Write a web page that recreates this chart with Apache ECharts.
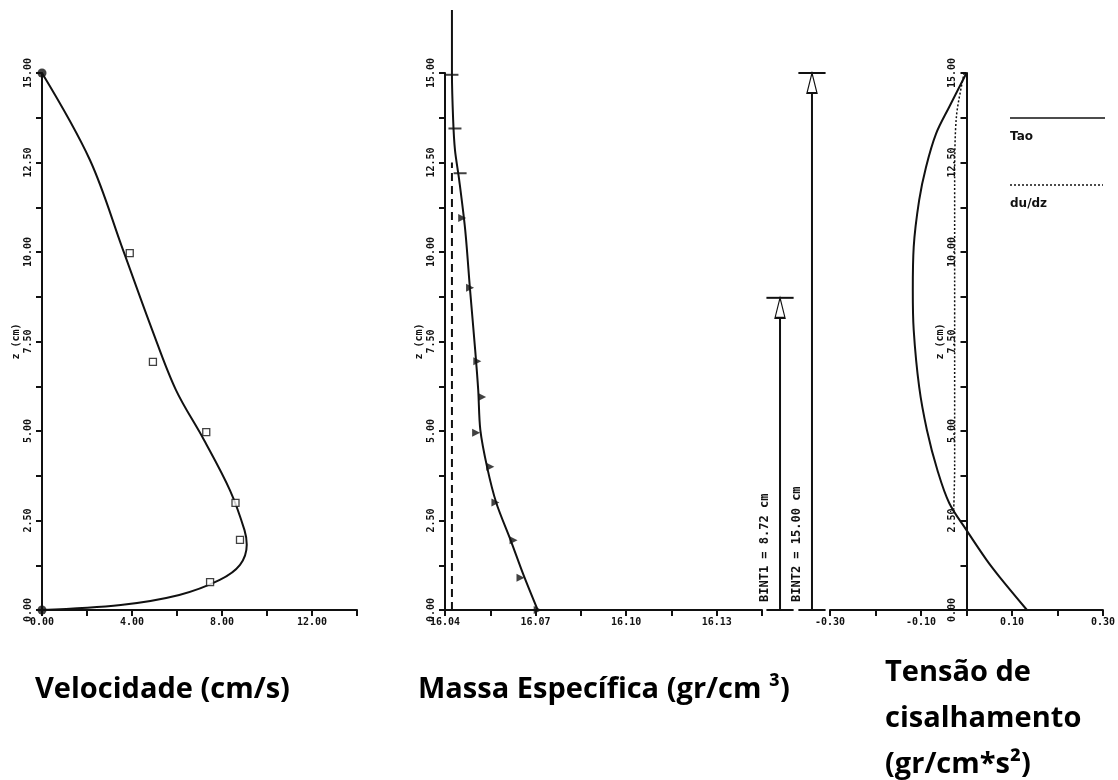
<!DOCTYPE html>
<html>
<head>
<meta charset="utf-8">
<script src="https://cdn.jsdelivr.net/npm/echarts@6/dist/echarts.min.js"></script>
<style>
  html, body { margin: 0; padding: 0; background: #fff; }
  #chart { width: 1118px; height: 780px; }
</style>
</head>
<body>
<div id="chart"></div>
<script>
// ---- Depth axis shared by all three profiles (cm) ----
const depthMin = 0;
const depthMax = 15;
const depthStep = 1.25;

// ---- Velocity profile (cm/s) ----
const velPointZ = [0, 0.78, 1.96, 2.99, 4.97, 6.93, 9.97, 15];
const velPointU = [0, 7.47, 8.8, 8.6, 7.3, 4.93, 3.9, 0];
const velCurveZ = [15, 12.57, 10.06, 7.82, 6.15, 4.75, 3.35, 2.23, 1.82, 1.26, 0.84, 0.42, 0.14, 0];
const velCurveU = [0, 2.13, 3.6, 4.9, 5.95, 7.2, 8.35, 9.0, 9.1, 8.8, 7.9, 6.1, 3.5, 0];
const velAxis = { min: 0, max: 14, step: 2 };

// ---- Density profile (gr/cm3) ----
const rhoPointZ = [0, 0.9, 1.95, 3, 4, 4.95, 5.95, 6.95, 9, 10.95, 12.2, 13.45, 14.95];
const rhoPointR = [16.0707, 16.065, 16.0627, 16.0567, 16.055, 16.0503, 16.0523, 16.0507, 16.0483, 16.0457, 16.045, 16.0433, 16.0423];
const rhoCurveZ = [0, 0.98, 1.96, 2.99, 3.97, 5.03, 6.15, 7.26, 8.94, 10.61, 12.01, 12.85, 13.69, 15, 16.76];
const rhoCurveR = [16.0707, 16.066, 16.0617, 16.057, 16.054, 16.0517, 16.051, 16.05, 16.0483, 16.0467, 16.0447, 16.0433, 16.0427, 16.0423, 16.0423];
const rhoRef = 16.0423;
const rhoRefTop = 12.5;
const rhoAxis = { min: 16.04, max: 16.145, step: 0.015 };

// ---- Integral depths (cm) ----
const bintNames = ['BINT1', 'BINT2'];
const bintValues = [8.72, 15.00];

// ---- Shear stress profile (gr/cm*s^2) ----
const tauZ = [15, 14.05, 13.3, 12.37, 11.45, 10.14, 8.94, 7.82, 6.23, 5.03, 3.91, 2.99, 2.23, 1.4, 0.92, 0];
const tauX = [0, -0.038, -0.067, -0.089, -0.104, -0.116, -0.118, -0.116, -0.104, -0.087, -0.064, -0.038, 0, 0.044, 0.073, 0.133];
const dudzZ = [15, 13.8, 12, 8, 4, 2.8];
const dudzX = [-0.005, -0.022, -0.026, -0.026, -0.026, -0.028];
const tauAxis = { min: -0.3, max: 0.3, step: 0.1 };

const INK = '#111';
const tickFont = { fontFamily: 'DejaVu Sans Mono', fontWeight: 'bold', fontSize: 10, color: INK };
const zip = (xs, ys) => xs.map((x, i) => [x, ys[i]]);

const grids = [
  { left: 42, width: 315, top: 73, height: 537 },
  { left: 445, width: 317, top: 73, height: 537 },
  { left: 762, width: 68, top: 73, height: 537 },
  { left: 830, width: 273, top: 73, height: 537 }
];

function depthAxis(gridIndex, offset) {
  return {
    type: 'value', gridIndex, min: depthMin, max: depthMax, interval: depthStep,
    position: 'left', offset: offset || 0,
    axisLine: { show: true, onZero: false, lineStyle: { color: INK, width: 2 } },
    axisTick: { show: true, length: 6, lineStyle: { color: INK, width: 2 } },
    splitLine: { show: false },
    axisLabel: Object.assign({
      rotate: 90, margin: 9,
      formatter: v => (Math.round(v / depthStep) % 2 === 0 ? v.toFixed(2) : '')
    }, tickFont),
    name: 'z (cm)', nameLocation: 'middle', nameRotate: 90, nameGap: 21,
    nameTextStyle: tickFont
  };
}

function valueAxis(gridIndex, ax) {
  return {
    type: 'value', gridIndex, min: ax.min, max: ax.max, interval: ax.step,
    axisLine: { show: true, onZero: false, lineStyle: { color: INK, width: 2 } },
    axisTick: { show: true, length: 6, lineStyle: { color: INK, width: 2 } },
    splitLine: { show: false },
    axisLabel: Object.assign({
      margin: 7,
      formatter: v => (Math.round((v - ax.min) / ax.step) % 2 === 0 ? v.toFixed(2) : '')
    }, tickFont)
  };
}

// the stress panel's depth axis stands on the zero of its horizontal scale
const tauZeroOffset = -((0 - tauAxis.min) / (tauAxis.max - tauAxis.min)) * grids[3].width;

const bintX = [0.265, 0.735];

const series = [
  // velocity
  { type: 'line', xAxisIndex: 0, yAxisIndex: 0, data: zip(velCurveU, velCurveZ), smooth: 0.35,
    symbol: 'none', lineStyle: { color: INK, width: 2 }, z: 3 },
  { type: 'scatter', xAxisIndex: 0, yAxisIndex: 0,
    data: zip(velPointU, velPointZ).map((p, i, a) => {
      const end = i === 0 || i === a.length - 1;
      return end
        ? { value: p, symbol: 'circle', symbolSize: 9, itemStyle: { color: INK, borderWidth: 0 } }
        : { value: p, symbol: 'rect', symbolSize: 7 };
    }),
    itemStyle: { color: '#fff', borderColor: INK, borderWidth: 1.3 }, z: 4 },
  // density
  { type: 'line', xAxisIndex: 1, yAxisIndex: 1, data: zip(rhoCurveR, rhoCurveZ), smooth: 0.3,
    symbol: 'none', clip: false, lineStyle: { color: INK, width: 2 }, z: 3 },
  { type: 'line', xAxisIndex: 1, yAxisIndex: 1, data: [[rhoRef, depthMin], [rhoRef, rhoRefTop]],
    symbol: 'none', lineStyle: { color: INK, width: 2, type: [8, 5] }, z: 2 },
  { type: 'scatter', xAxisIndex: 1, yAxisIndex: 1,
    data: zip(rhoPointR, rhoPointZ).map(p => p[1] > 12
      ? { value: p, symbol: 'rect', symbolSize: [13, 2] }
      : { value: p, symbol: 'triangle', symbolSize: 8, symbolRotate: -90 }),
    itemStyle: { color: INK }, z: 4 },
  // shear stress
  { type: 'line', xAxisIndex: 3, yAxisIndex: 3, data: zip(tauX, tauZ), smooth: 0.35,
    symbol: 'none', lineStyle: { color: INK, width: 2 }, z: 3 },
  { type: 'line', xAxisIndex: 3, yAxisIndex: 3, data: zip(dudzX, dudzZ), smooth: 0.3,
    symbol: 'none', lineStyle: { color: INK, width: 1.5, type: [2, 2] }, z: 2 }
];

// integral depth markers: vertical arrow, cap at the depth, foot on the bed
bintValues.forEach((v, i) => {
  const x = bintX[i];
  series.push({
    type: 'line', xAxisIndex: 2, yAxisIndex: 2, clip: false, showSymbol: true,
    data: [
      { value: [x, 0], symbol: 'none' },
      { value: [x, v], symbol: 'triangle', symbolSize: [10, 20], symbolOffset: [0, '50%'] }
    ],
    lineStyle: { color: INK, width: 2 },
    itemStyle: { color: '#fff', borderColor: INK, borderWidth: 1.5 }, z: 3
  });
  series.push({
    type: 'line', xAxisIndex: 2, yAxisIndex: 2, clip: false, symbol: 'none',
    data: [[x - 0.2, v], [x + 0.2, v]], lineStyle: { color: INK, width: 2 }
  });
  series.push({
    type: 'line', xAxisIndex: 2, yAxisIndex: 2, clip: false, symbol: 'none',
    data: [[x - 0.2, 0], [x + 0.2, 0]], lineStyle: { color: INK, width: 2 }
  });
});

const chart = echarts.init(document.getElementById('chart'), null, { renderer: 'canvas' });
chart.setOption({
  backgroundColor: '#fff',
  animation: false,
  grid: grids,
  xAxis: [
    valueAxis(0, velAxis),
    valueAxis(1, rhoAxis),
    { type: 'value', gridIndex: 2, min: 0, max: 1, show: false },
    valueAxis(3, tauAxis)
  ],
  yAxis: [
    depthAxis(0),
    depthAxis(1),
    { type: 'value', gridIndex: 2, min: depthMin, max: depthMax, show: false },
    depthAxis(3, tauZeroOffset)
  ],
  series
});

// texts: integral labels (placed from the axis scale), legend and panel titles
const titleFont = { fontFamily: 'Open Sans', fontWeight: 'bold', fontSize: 29, fill: '#000' };
const legendFont = { fontFamily: 'DejaVu Sans', fontWeight: 'bold', fontSize: 12, fill: INK };
const graphic = [];
bintValues.forEach((v, i) => {
  const p = chart.convertToPixel({ gridIndex: 2 }, [bintX[i], 0]);
  graphic.push({
    type: 'text', x: p[0] - 15, y: p[1] - 8, rotation: Math.PI / 2,
    style: { text: bintNames[i] + ' = ' + v.toFixed(2) + ' cm', fontFamily: 'DejaVu Sans Mono',
      fontWeight: 'bold', fontSize: 12, fill: INK, textAlign: 'left', textVerticalAlign: 'middle' }
  });
});
graphic.push(
  { type: 'line', shape: { x1: 1010, y1: 118, x2: 1105, y2: 118 }, style: { stroke: INK, lineWidth: 1.5 } },
  { type: 'text', x: 1010, y: 131, style: Object.assign({ text: 'Tao' }, legendFont) },
  { type: 'line', shape: { x1: 1010, y1: 185, x2: 1103, y2: 185 }, style: { stroke: INK, lineWidth: 1.5, lineDash: [2, 2] } },
  { type: 'text', x: 1010, y: 198, style: Object.assign({ text: 'du/dz' }, legendFont) },
  { type: 'text', x: 35, y: 690, style: Object.assign({ text: 'Velocidade (cm/s)', textVerticalAlign: 'middle' }, titleFont) },
  { type: 'text', x: 418, y: 690, style: Object.assign({ text: 'Massa Específica (gr/cm ³)', textVerticalAlign: 'middle' }, titleFont) },
  { type: 'text', x: 885, y: 673, style: Object.assign({ text: 'Tensão de', textVerticalAlign: 'middle' }, titleFont) },
  { type: 'text', x: 885, y: 719, style: Object.assign({ text: 'cisalhamento', textVerticalAlign: 'middle' }, titleFont) },
  { type: 'text', x: 885, y: 765, style: Object.assign({ text: '(gr/cm*s²)', textVerticalAlign: 'middle' }, titleFont) }
);
chart.setOption({ graphic });
</script>
</body>
</html>
